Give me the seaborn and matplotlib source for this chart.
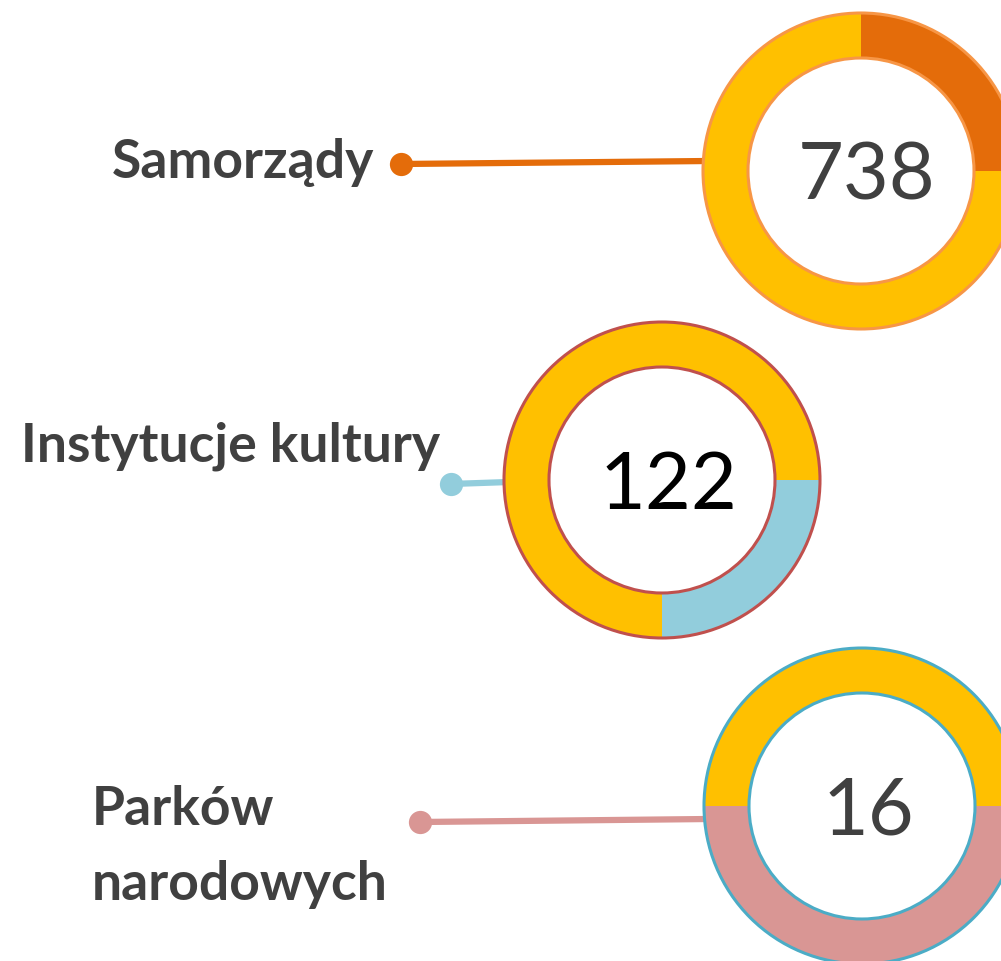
import matplotlib
matplotlib.use("Agg")
import matplotlib.pyplot as plt
from matplotlib.patches import Circle
import seaborn as sns

# data
labels = ["Samorządy", "Instytucje kultury", "Parków\nnarodowych"]
counts = [738, 122, 16]
highlight_share = [25, 25, 50]   # percent of ring in the accent colour

accent_colors = ["#E46C0A", "#92CDDC", "#D99694"]
ring_edges = ["#F79646", "#C0504D", "#4BACC6"]
number_colors = ["#404040", "#000000", "#404040"]
yellow = "#FFC000"

sns.set_theme(style="white")
plt.rcParams["font.family"] = ["Lato", "DejaVu Sans"]

W, H = 1001, 962
fig = plt.figure(figsize=(W / 100, H / 100), dpi=100)
ax = fig.add_axes([0, 0, 1, 1])
ax.set_xlim(0, W)
ax.set_ylim(0, H)
ax.set_aspect("equal")
ax.axis("off")

# layout (pixel units, y from top)
centers = [(861, 172), (662, 481), (862, 807)]
R, r = 158, 113
pie_setup = [(90, False), (0, False), (180, True)]
label_pos = [(112, 178), (21, 462), (92, 825)]
dot_pos = [(401, 165), (451, 485), (420, 823)]
line_end_y = [162, 483, 820]

for i in range(3):
    cx, cy = centers[i]
    cy = H - cy
    start, ccw = pie_setup[i]
    share = highlight_share[i]

    # connector line + dot
    dx, dy = dot_pos[i]
    ax.plot([dx, cx - R + 5], [H - dy, H - line_end_y[i]], color=accent_colors[i],
            lw=4.5, solid_capstyle="round", zorder=1)
    ax.scatter([dx], [H - dy], s=280, color=accent_colors[i], zorder=2, linewidths=0)

    # ring
    ax.pie([share, 100 - share], colors=[accent_colors[i], yellow], startangle=start,
           counterclock=ccw, radius=R, center=(cx, cy),
           wedgeprops=dict(width=R - r, linewidth=0), frame=True)
    ax.add_patch(Circle((cx, cy), R, fill=False, edgecolor=ring_edges[i], lw=2.2, zorder=5))
    ax.add_patch(Circle((cx, cy), r, facecolor="white", edgecolor=ring_edges[i], lw=2.2, zorder=5))

    ax.text(cx + 6, cy - 28, str(counts[i]), fontsize=57, color=number_colors[i],
            ha="center", va="baseline", zorder=6)

    # label
    lx, ly = label_pos[i]
    for k, line in enumerate(labels[i].split("\n")):
        ax.text(lx, H - ly - 75 * k, line, fontsize=38.5, fontweight="bold",
                color="#404040", ha="left", va="baseline")

ax.set_xlim(0, W)
ax.set_ylim(0, H)
ax.axis("off")
fig.savefig("out.png", dpi=100, facecolor="white")
